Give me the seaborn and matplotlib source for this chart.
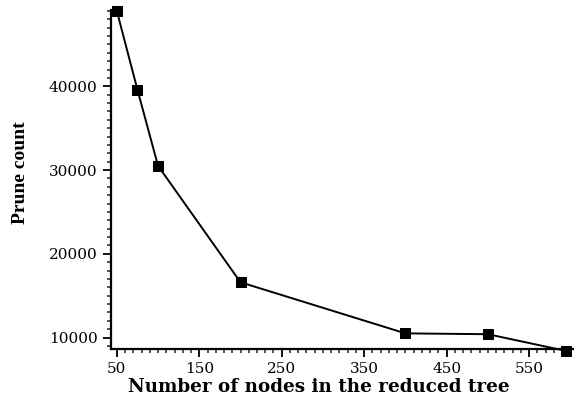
import matplotlib
matplotlib.use("Agg")
import matplotlib.pyplot as plt
import seaborn as sns
import pandas as pd
from matplotlib.ticker import MultipleLocator, FixedLocator

# values
nodes = [50, 75, 100, 200, 400, 500, 595]
prune_count = [49000, 39600, 30500, 16600, 10500, 10400, 8400]

x_ticks = [50, 150, 250, 350, 450, 550]
y_ticks = [10000, 20000, 30000, 40000]

df = pd.DataFrame({"nodes": nodes, "prune": prune_count})

sns.set_style("ticks")
plt.rcParams["font.family"] = ["DejaVu Serif"]

fig = plt.figure(figsize=(5.74, 4.01), dpi=100)
ax = fig.add_axes([0.193, 0.13, 0.805, 0.845])

sns.lineplot(data=df, x="nodes", y="prune", ax=ax, color="black", linewidth=1.4,
             marker="s", markersize=7, markeredgecolor="black", markerfacecolor="black")
for ln in ax.lines:
    ln.set_clip_on(False)

ax.set_xlim(42.7, 603)
ax.set_ylim(8650, 49100)

ax.xaxis.set_major_locator(FixedLocator(x_ticks))
ax.xaxis.set_minor_locator(MultipleLocator(10))
ax.yaxis.set_major_locator(FixedLocator(y_ticks))
ax.yaxis.set_minor_locator(MultipleLocator(1000))
ax.tick_params(which="major", direction="out", length=6, width=1.3, labelsize=11, colors="black")
ax.tick_params(which="minor", direction="out", length=3, width=1.1)

sns.despine(ax=ax)
for s in ["left", "bottom"]:
    ax.spines[s].set_linewidth(1.6)
    ax.spines[s].set_color("black")

ax.set_xlabel("Number of nodes in the reduced tree", fontsize=13.2, fontweight="bold",
              family="DejaVu Serif", color="black")
ax.set_ylabel("Prune count", fontsize=14, fontweight="bold",
              family=["Liberation Serif"], color="black")
ax.xaxis.set_label_coords(0.45, -0.085)
ax.yaxis.set_label_coords(-0.178, 0.52)

fig.savefig("out.png", dpi=100)
